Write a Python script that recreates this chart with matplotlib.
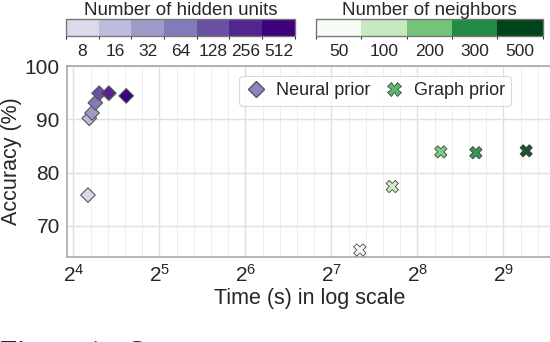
import numpy as np
import matplotlib
matplotlib.use("Agg")
import matplotlib.pyplot as plt
from matplotlib.colors import ListedColormap, BoundaryNorm
from matplotlib.cm import ScalarMappable
from matplotlib.lines import Line2D
from matplotlib.ticker import FixedLocator, NullFormatter

plt.rcParams['font.family'] = ['Liberation Sans', 'DejaVu Sans']
plt.rcParams['mathtext.fontset'] = 'dejavusans'

# neural prior (hidden units)
hidden_units = [8, 16, 32, 64, 128, 256, 512]
neural_time = [18.0, 18.2, 18.6, 19.1, 19.7, 21.3, 24.5]
neural_acc = [75.8, 90.2, 91.2, 93.1, 94.9, 94.9, 94.4]

# graph prior (neighbors)
neighbors = [50, 100, 200, 300, 500]
graph_time = [161, 209, 309, 410, 615]
graph_acc = [65.5, 77.4, 83.9, 83.75, 84.1]

purples = plt.cm.Purples(np.linspace(0.25, 1.0, len(hidden_units)))
greens = plt.cm.Greens(np.linspace(0.0, 1.0, len(neighbors)))

text_col = '#262626'
fig = plt.figure(figsize=(5.5, 3.42), dpi=100)
ax = fig.add_axes([0.1213, 0.2494, 0.882, 0.5576])

ax.scatter(neural_time, neural_acc, c=purples, marker='D', s=55,
           edgecolors='#555555', linewidths=0.8, zorder=3)
ax.scatter(graph_time, graph_acc, c=greens, marker='X', s=78,
           edgecolors='#333333', linewidths=0.6, alpha=0.9, zorder=3)

ax.set_xscale('log', base=2)
ax.set_xlim(2 ** 3.923, 2 ** 9.562)
ax.set_ylim(64.24, 100)
ax.set_xticks([2 ** k for k in range(4, 10)])
minor = [2 ** (k + j / 5) for k in range(3, 10) for j in range(1, 5)]
ax.xaxis.set_minor_locator(FixedLocator(minor))
ax.xaxis.set_minor_formatter(NullFormatter())
ax.set_yticks([70, 80, 90, 100])

ax.grid(True, which='major', color='#e0e0e0', lw=1.0, zorder=0)
ax.grid(True, which='minor', axis='x', color='#eeeeee', lw=0.7, zorder=0)
ax.set_axisbelow(True)
for s in ax.spines.values():
    s.set_color('#a8a8a8')
    s.set_linewidth(1.2)
ax.tick_params(which='both', length=0, labelsize=15, colors=text_col, pad=5)

ax.set_xlabel('Time (s) in log scale', fontsize=15.5, color=text_col, labelpad=2)
ax.set_ylabel('Accuracy (%)', fontsize=15.5, color=text_col, labelpad=2)

handles = [
    Line2D([], [], marker='D', ls='none', color='#8a85c4', markeredgecolor='#555555',
           markersize=8, label='Neural prior'),
    Line2D([], [], marker='X', ls='none', color='#5db86c', markeredgecolor='#333333',
           markeredgewidth=0.5, markersize=10, label='Graph prior'),
]
leg = ax.legend(handles=handles, ncol=2, fontsize=13, loc='upper right',
                bbox_to_anchor=(0.916, 0.948), borderaxespad=0, frameon=True,
                handletextpad=0.5, columnspacing=0.7, borderpad=0.35,
                handlelength=1.2)
leg.get_frame().set_edgecolor('#d0d0d0')
leg.get_frame().set_linewidth(0.8)
for t in leg.get_texts():
    t.set_color(text_col)


def add_cbar(rect, colors, labels, title):
    cax = fig.add_axes(rect)
    n = len(colors)
    sm = ScalarMappable(norm=BoundaryNorm(np.arange(n + 1), n), cmap=ListedColormap(colors))
    cb = fig.colorbar(sm, cax=cax, orientation='horizontal', ticks=np.arange(n) + 0.5)
    cb.set_ticklabels([str(v) for v in labels])
    cb.outline.set_edgecolor('#777777')
    cb.outline.set_linewidth(1.0)
    cax.tick_params(length=0, labelsize=12.5, colors=text_col, pad=6)
    cax.set_title(title, fontsize=13.5, color=text_col, pad=3)


add_cbar([0.12, 0.8947, 0.416, 0.0488], purples, hidden_units, 'Number of hidden units')
add_cbar([0.5745, 0.8947, 0.4125, 0.0488], greens, neighbors, 'Number of neighbors')

# caption of the paper, only its top is visible
fig.text(0.0, -0.058, 'Figure 1:  Our', fontsize=22, family='Liberation Serif',
         color='#222222', ha='left', va='baseline')

fig.savefig('out.png', dpi=100)
